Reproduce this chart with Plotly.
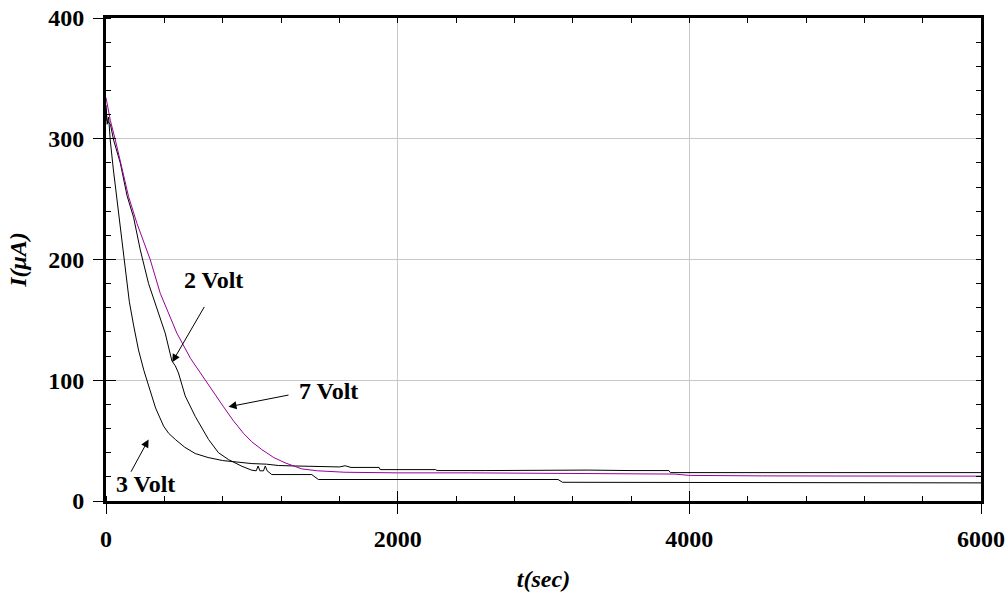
import plotly.graph_objects as go

# ---- data ----
t_3v = [0, 8, 18, 29, 50, 75, 100, 132, 160, 190, 223, 260, 292, 340, 395, 430, 475, 540, 612,
        700, 800, 900, 1000, 1100, 1182, 1300, 1450, 1600, 1640, 1660, 1680, 1873, 1880, 2260, 2270,
        2600, 2900, 3000, 3300, 3600, 3860, 3870, 4500, 5000, 5500, 6000]
i_3v = [325, 312, 318, 299, 275, 250, 222, 190, 165, 145, 125, 108, 95, 77, 62, 56, 51, 44.5, 39.3,
        36, 33.5, 32, 31, 30.5, 29.4, 29, 28.6, 28.2, 29.2, 28.2, 27.8, 27.8, 26, 26, 25.2,
        25.2, 25.6, 25.2, 25.6, 25.2, 25.2, 23.5, 23.5, 23.5, 23.5, 23.5]

t_2v = [0, 7, 30, 52, 98, 144, 189, 235, 292, 349, 406, 452, 475, 497, 543, 612, 660, 703,
        771, 840, 931, 1000, 1030, 1043, 1055, 1080, 1092, 1105, 1137, 1250, 1411, 1456, 1800, 2200,
        2700, 3100, 3130, 3500, 4000, 4300, 4600, 5000, 5300, 5500, 5700, 6000]
i_2v = [328, 315, 312, 299, 280, 253, 235, 208, 180, 160, 139, 116, 112, 106, 87, 70, 60, 51,
        40, 34.3, 28.8, 25.5, 25, 29, 25, 25, 29, 25, 21.9, 21.9, 21.9, 17.8, 17.8, 17.8,
        17.8, 17.8, 15.5, 15.5, 15.2, 15.5, 15, 15.5, 15.5, 15, 15.3, 15]

t_7v = [0, 30, 64, 98, 155, 212, 281, 303, 372, 430, 486, 580, 680, 740, 806, 870, 943, 1000,
        1068, 1150, 1228, 1342, 1450, 1640, 2000, 2500, 3000, 3500, 3900, 4000, 4100, 4500, 5000,
        5500, 6000]
i_7v = [334, 315, 299, 282, 252, 230, 208, 200, 172, 155, 139, 118, 100, 89, 78, 67, 56, 49,
        42.6, 36, 31.6, 26.6, 25, 23.8, 23.3, 23.3, 23, 22.6, 22.3, 21.2, 21, 20.8, 20.7,
        20.6, 20.6]

x_range = [0, 6000]
y_range = [0, 400]
x_ticks = [0, 2000, 4000, 6000]
y_ticks = [0, 100, 200, 300, 400]

FONT = "Liberation Serif"
tickfont = dict(family=FONT, size=24, color="black", weight="bold")
titlefont = dict(family=FONT, size=24, color="black", weight="bold", style="italic")

fig = go.Figure()
fig.add_trace(go.Scatter(x=t_3v, y=i_3v, mode="lines", line=dict(color="black", width=1), name="3 Volt"))
fig.add_trace(go.Scatter(x=t_2v, y=i_2v, mode="lines", line=dict(color="black", width=1), name="2 Volt"))
fig.add_trace(go.Scatter(x=t_7v, y=i_7v, mode="lines", line=dict(color="#990099", width=1), name="7 Volt"))

# invisible helper traces so the extra tick-only axes get drawn
for xa, ya in [("x2", "y"), ("x3", "y"), ("x", "y2"), ("x", "y3")]:
    fig.add_trace(go.Scatter(x=[0], y=[0], xaxis=xa, yaxis=ya, mode="markers",
                             marker=dict(opacity=0), hoverinfo="skip", showlegend=False))

common_hidden = dict(showgrid=False, zeroline=False, showline=False, showticklabels=False,
                     tickcolor="black", tickwidth=1, automargin=False)

fig.update_layout(
    width=1007, height=593,
    margin=dict(l=106, r=26, t=18, b=92),
    paper_bgcolor="white", plot_bgcolor="white",
    showlegend=False,
    xaxis=dict(range=x_range, autorange=False, tickvals=x_ticks, ticks="outside", ticklen=10,
               tickwidth=1, tickcolor="black", tickfont=tickfont, ticklabelstandoff=4,
               ticklabeloverflow="allow",
               showgrid=True, gridcolor="#c8c8c8", gridwidth=1, zeroline=False,
               showline=True, linecolor="black", linewidth=3, mirror=True, automargin=False,
               minor=dict(dtick=400, tick0=0, ticks="inside", ticklen=5, tickcolor="black",
                          tickwidth=1, showgrid=False),
               title=dict(text="t(sec)", font=titlefont, standoff=20)),
    xaxis2=dict(range=x_range, autorange=False, overlaying="x", anchor="y", side="bottom",
                tickvals=x_ticks, ticks="inside", ticklen=10, **common_hidden),
    xaxis3=dict(range=x_range, autorange=False, overlaying="x", anchor="y", side="top",
                tickvals=x_ticks, ticks="inside", ticklen=5,
                minor=dict(dtick=400, tick0=0, ticks="inside", ticklen=5, tickcolor="black",
                           tickwidth=1, showgrid=False), **common_hidden),
    yaxis=dict(range=y_range, autorange=False, tickvals=y_ticks, ticks="outside", ticklen=10,
               tickwidth=1, tickcolor="black", tickfont=tickfont, ticklabelstandoff=4,
               ticklabeloverflow="allow",
               showgrid=True, gridcolor="#c8c8c8", gridwidth=1, zeroline=False,
               showline=True, linecolor="black", linewidth=3, mirror=True, automargin=False,
               minor=dict(dtick=20, tick0=0, ticks="inside", ticklen=5, tickcolor="black",
                          tickwidth=1, showgrid=False),
               title=dict(text="I(μA)", font=titlefont, standoff=15)),
    yaxis2=dict(range=y_range, autorange=False, overlaying="y", anchor="x", side="left",
                tickvals=y_ticks, ticks="inside", ticklen=10, **common_hidden),
    yaxis3=dict(range=y_range, autorange=False, overlaying="y", anchor="x", side="right",
                tickvals=y_ticks, ticks="inside", ticklen=5,
                minor=dict(dtick=20, tick0=0, ticks="inside", ticklen=5, tickcolor="black",
                           tickwidth=1, showgrid=False), **common_hidden),
)

annfont = dict(family=FONT, size=24, color="black", weight="bold")
# arrows (tip at x,y; tail at ax,ay in data units)
arrows = [
    (454, 115, 680, 162),   # 2 Volt
    (840, 78, 1262, 88),    # 7 Volt
    (292, 51, 166, 23),     # 3 Volt
]
for x, y, ax, ay in arrows:
    fig.add_annotation(x=x, y=y, ax=ax, ay=ay, xref="x", yref="y", axref="x", ayref="y",
                       text="", showarrow=True, arrowhead=2, arrowsize=1.6, arrowwidth=1,
                       arrowcolor="black")
labels = [("2 Volt", 735, 183), ("7 Volt", 1523, 91), ("3 Volt", 269, 14)]
for txt, x, y in labels:
    fig.add_annotation(x=x, y=y, xref="x", yref="y", text=txt, showarrow=False, font=annfont)

# remove the default 8px page margin so the 1007x593 figure fills the window exactly
fig.write_html("out.html", config={"displayModeBar": False},
               post_script="document.body.style.margin='0';document.body.style.overflow='hidden';")
